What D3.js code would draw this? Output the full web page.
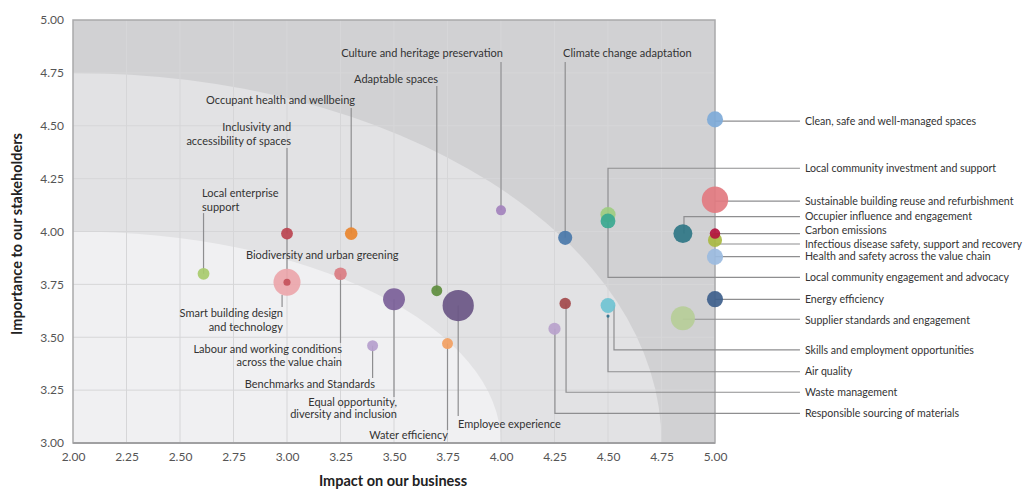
<!DOCTYPE html>
<html>
<head>
<meta charset="utf-8">
<script src="https://cdn.jsdelivr.net/npm/d3@7"></script>
<style>
  body { margin: 0; background: #fff; }
  svg { display: block; font-family: Lato, "Open Sans", sans-serif; }
  .tick text { fill: #555; font-size: 12px; }
  .lbl { fill: #333; font-size: 11px; }
  .lbl.side { font-size: 10.6px; }
</style>
</head>
<body>
<svg id="chart" width="1028" height="491"></svg>
<script>
// materiality topics
var topics = [
  "Clean, safe and well-managed spaces",
  "Local community investment and support",
  "Local community engagement and advocacy",
  "Sustainable building reuse and refurbishment",
  "Occupier influence and engagement",
  "Infectious disease safety, support and recovery",
  "Carbon emissions",
  "Health and safety across the value chain",
  "Energy efficiency",
  "Supplier standards and engagement",
  "Skills and employment opportunities",
  "Air quality",
  "Waste management",
  "Responsible sourcing of materials",
  "Climate change adaptation",
  "Culture and heritage preservation",
  "Adaptable spaces",
  "Occupant health and wellbeing",
  "Inclusivity and accessibility of spaces",
  "Local enterprise support",
  "Labour and working conditions across the value chain",
  "Smart building design and technology",
  "Biodiversity and urban greening",
  "Benchmarks and Standards",
  "Equal opportunity, diversity and inclusion",
  "Employee experience",
  "Water efficiency"
];
// impact on business (x)
var impact = [5.00, 4.50, 4.50, 5.00, 4.85, 5.00, 5.00, 5.00, 5.00, 4.85, 4.50, 4.50, 4.30, 4.25,
              4.30, 4.00, 3.70, 3.30, 3.00, 2.61, 3.25, 3.00, 3.00, 3.40, 3.50, 3.80, 3.75];
// importance to stakeholders (y)
var importance = [4.53, 4.08, 4.05, 4.15, 3.99, 3.96, 3.99, 3.88, 3.68, 3.59, 3.65, 3.60, 3.66, 3.54,
                  3.97, 4.10, 3.72, 3.99, 3.99, 3.80, 3.80, 3.76, 3.76, 3.46, 3.68, 3.65, 3.47];
// bubble weight
var weight = [2.6, 2.3, 2.2, 7.0, 3.6, 2.0, 1.1, 2.6, 2.6, 5.8, 2.2, 0.1, 1.3, 1.5,
              2.0, 1.0, 1.2, 1.6, 1.4, 1.4, 1.6, 7.3, 0.5, 1.2, 4.8, 9.8, 1.2];
var colors = ["#7eaad8", "#9dcc80", "#3aa890", "#e27a80", "#2f7686", "#a9b842", "#b3123e", "#9bbbe0",
              "#3e5f8c", "#b6cd98", "#6fc3d3", "#2d6f8c", "#a34a4c", "#b9a2cc",
              "#4a78aa", "#a382bd", "#5e8d3e", "#e9862f", "#bb4450", "#a8cb6c", "#da7c82",
              "#eba6ab", "#c4505a", "#b59ecd", "#7b6099", "#6a5686", "#f2a062"];

var xTicks = [2, 2.25, 2.5, 2.75, 3, 3.25, 3.5, 3.75, 4, 4.25, 4.5, 4.75, 5];
var yTicks = [3, 3.25, 3.5, 3.75, 4, 4.25, 4.5, 4.75, 5];

var svg = d3.select('#chart');
var x = d3.scaleLinear().domain([2, 5]).range([73, 715]);
var y = d3.scaleLinear().domain([3, 5]).range([443, 20]);
var r = d3.scaleSqrt().domain([0, 10]).range([0, 15.8]);

// leader helpers (data units)
var labX = 5.42, leadX = 5.397;
var right = function(i, ly, vx) {
  if (vx === undefined) return [[leadX, ly], [impact[i], ly]];
  return [[leadX, ly], [vx, ly], [vx, importance[i]]];
};
var vert = function(i, vx, from) {
  return [[vx, from], [vx, importance[i]]];
};

var labels = [
  {i: 0, lx: labX, ly: [4.522], a: 'start', lead: right(0, 4.522)},
  {i: 1, lx: labX, ly: [4.299], a: 'start', lead: right(1, 4.299, 4.50)},
  {i: 3, lx: labX, ly: [4.144], a: 'start', lead: right(3, 4.144)},
  {i: 4, lx: labX, ly: [4.070], a: 'start', lead: right(4, 4.070, 4.855)},
  {i: 6, lx: labX, ly: [4.004], a: 'start', lead: right(6, 3.99)},
  {i: 5, lx: labX, ly: [3.941], a: 'start', lead: right(5, 3.941)},
  {i: 7, lx: labX, ly: [3.881], a: 'start', lead: right(7, 3.881)},
  {i: 2, lx: labX, ly: [3.783], a: 'start', lead: right(2, 3.783, 4.50)},
  {i: 8, lx: labX, ly: [3.679], a: 'start', lead: right(8, 3.679)},
  {i: 9, lx: labX, ly: [3.578], a: 'start', lead: right(9, 3.585)},
  {i: 10, lx: labX, ly: [3.440], a: 'start', lead: right(10, 3.440, 4.528)},
  {i: 11, lx: labX, ly: [3.337], a: 'start', lead: right(11, 3.337, 4.50)},
  {i: 12, lx: labX, ly: [3.240], a: 'start', lead: right(12, 3.240, 4.304)},
  {i: 13, lx: labX, ly: [3.140], a: 'start', lead: right(13, 3.140, 4.252)},
  {i: 14, lx: 4.290, ly: [4.844], a: 'start', lead: vert(14, 4.30, 4.801)},
  {i: 15, lx: 4.009, ly: [4.844], a: 'end', lead: vert(15, 4.00, 4.801)},
  {i: 16, lx: 3.706, ly: [4.721], a: 'end', lead: vert(16, 3.70, 4.688)},
  {i: 17, lx: 3.318, ly: [4.622], a: 'end', lead: vert(17, 3.30, 4.584)},
  {i: 18, lx: 3.019, ly: [4.494, 4.428], a: 'end', text: ["Inclusivity and", "accessibility of spaces"], lead: vert(18, 3.00, 4.395)},
  {i: 19, lx: 2.603, ly: [4.182, 4.116], a: 'start', text: ["Local enterprise", "support"], lead: vert(19, 2.61, 4.087)},
  {i: 22, lx: 2.808, ly: [3.889], a: 'start', lead: vert(22, 3.00, 3.969)},
  {i: 21, lx: 2.981, ly: [3.615, 3.548], a: 'end', text: ["Smart building design", "and technology"], lead: [[2.977, 3.643], [2.977, 3.70]]},
  {i: 20, lx: 3.257, ly: [3.444, 3.383], a: 'end', text: ["Labour and working conditions", "across the value chain"], lead: vert(20, 3.25, 3.473)},
  {i: 23, lx: 3.411, ly: [3.279], a: 'end', lead: vert(23, 3.40, 3.307)},
  {i: 24, lx: 3.514, ly: [3.194, 3.137], a: 'end', text: ["Equal opportunity,", "diversity and inclusion"], lead: vert(24, 3.50, 3.217)},
  {i: 25, lx: 3.799, ly: [3.090], a: 'start', lead: vert(25, 3.80, 3.128)},
  {i: 26, lx: 3.752, ly: [3.038], a: 'end', lead: vert(26, 3.75, 3.061)}
];

// background zones
svg.append('defs').append('clipPath').attr('id', 'plot')
  .append('rect').attr('x', x(2)).attr('y', y(5)).attr('width', x(5) - x(2)).attr('height', y(3) - y(5));
var bg = svg.append('g').attr('clip-path', 'url(#plot)');
bg.append('rect').attr('x', x(2)).attr('y', y(5)).attr('width', x(5) - x(2)).attr('height', y(3) - y(5))
  .attr('fill', '#d1d1d3');
bg.append('ellipse').attr('cx', x(2)).attr('cy', y(3))
  .attr('rx', x(4.75) - x(2)).attr('ry', y(3) - y(4.75)).attr('fill', '#e2e2e4');
bg.append('ellipse').attr('cx', x(2)).attr('cy', y(3))
  .attr('rx', x(4) - x(2)).attr('ry', y(3) - y(4)).attr('fill', '#f0f0f2');

// grid
var grid = svg.append('g').attr('stroke', '#d6d6d8').attr('stroke-width', 1);
grid.selectAll('.gx').data(xTicks.slice(1, -1)).enter().append('line')
  .attr('x1', function(d) { return x(d); }).attr('x2', function(d) { return x(d); })
  .attr('y1', y(5)).attr('y2', y(3));
grid.selectAll('.gy').data(yTicks.slice(1, -1)).enter().append('line')
  .attr('y1', function(d) { return y(d); }).attr('y2', function(d) { return y(d); })
  .attr('x1', x(2)).attr('x2', x(5));

// frame
svg.append('rect').attr('x', x(2)).attr('y', y(5)).attr('width', x(5) - x(2)).attr('height', y(3) - y(5))
  .attr('fill', 'none').attr('stroke', '#a9a9ab').attr('stroke-width', 1.5);
svg.append('line').attr('x1', x(2)).attr('x2', x(5)).attr('y1', y(3)).attr('y2', y(3))
  .attr('stroke', '#a0a0a2').attr('stroke-width', 2);

// axes
var fmt = d3.format('.2f');
svg.append('g').attr('transform', 'translate(0,' + y(3) + ')')
  .call(d3.axisBottom(x).tickValues(xTicks).tickFormat(fmt).tickSize(0).tickPadding(9))
  .call(function(g) { g.select('.domain').remove(); });
svg.append('g').attr('transform', 'translate(' + x(2) + ',0)')
  .call(d3.axisLeft(y).tickValues(yTicks).tickFormat(fmt).tickSize(0).tickPadding(9))
  .call(function(g) { g.select('.domain').remove(); });
svg.selectAll('.tick text').attr('font-family', 'Lato, sans-serif');

svg.append('text').attr('x', 393).attr('y', 486).attr('text-anchor', 'middle')
  .attr('font-size', '14.5px').attr('font-weight', 'bold').attr('fill', '#222')
  .text('Impact on our business');
svg.append('text').attr('transform', 'translate(22,234) rotate(-90)').attr('text-anchor', 'middle')
  .attr('font-size', '14.5px').attr('font-weight', 'bold').attr('fill', '#222')
  .text('Importance to our stakeholders');

// leader lines
var line = d3.line().x(function(d) { return x(d[0]); }).y(function(d) { return y(d[1]); });
svg.append('g').selectAll('path').data(labels).enter().append('path')
  .attr('d', function(d) { return line(d.lead); })
  .attr('fill', 'none').attr('stroke', '#8e8e90').attr('stroke-width', 1.2);

// bubbles (big ones first)
var order = d3.range(topics.length).sort(function(a, b) { return weight[b] - weight[a]; });
svg.append('g').selectAll('circle').data(order).enter().append('circle')
  .attr('cx', function(i) { return x(impact[i]); })
  .attr('cy', function(i) { return y(importance[i]); })
  .attr('r', function(i) { return r(weight[i]); })
  .attr('fill', function(i) { return colors[i]; })
  .attr('fill-opacity', 0.92);

// labels
var lg = svg.append('g');
labels.forEach(function(d) {
  var lines = d.text || [topics[d.i]];
  lines.forEach(function(t, k) {
    lg.append('text').attr('class', d.lx === labX ? 'lbl side' : 'lbl')
      .attr('x', x(d.lx)).attr('y', y(d.ly[k])).attr('dy', '0.35em')
      .attr('text-anchor', d.a).text(t);
  });
});
</script>
</body>
</html>
